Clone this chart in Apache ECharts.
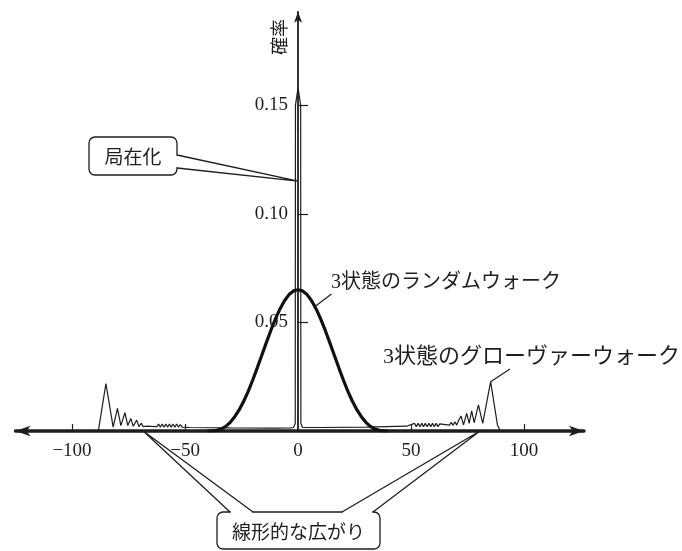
<!DOCTYPE html>
<html><head><meta charset="utf-8">
<script src="https://cdn.jsdelivr.net/npm/echarts@6/dist/echarts.min.js"></script>
<style>html,body{margin:0;padding:0;background:#fff}#c{width:682px;height:551px}</style>
</head><body><div id="c"></div>
<script>
// ---- data ----
const xTickValues = [-100, -50, 50, 100];
const xLabelValues = [-100, -50, 0, 50, 100];
const yTickValues = [0.05, 0.10, 0.15];

const randomX = [-40,-38,-36,-34,-32,-30,-28,-26,-24,-22,-20,-18,-16,-14,-12,-10,-8,-6,-4,-2,0,2,4,6,8,10,12,14,16,18,20,22,24,26,28,30,32,34,36,38,40];
const randomY = [0,0.0001,0.0003,0.0009,0.0021,0.0040,0.0066,0.0098,0.0138,0.0184,0.0236,0.0292,0.0350,0.0408,0.0464,0.0516,0.0562,0.0600,0.0628,0.0645,0.0650,0.0645,0.0628,0.0600,0.0562,0.0516,0.0464,0.0408,0.0350,0.0292,0.0236,0.0184,0.0138,0.0098,0.0066,0.0040,0.0021,0.0009,0.0003,0.0001,0];

const groverX = [-90,-88.3,-85,-81.8,-79.9,-78.4,-76.6,-75.3,-74.0,-72.9,-71.4,-70.4,-69.3,-68.5,-67.5,-62.5,-61.7,-60.9,-60.1,-59.3,-58.5,-57.7,-56.9,-56.1,-55.3,-54.5,-53.7,-52.9,-52.1,-51.3,-48,-30,-10,-3,-2,-1.25,-1.15,0,1.15,1.25,2,3,10,30,48,51.5,52.3,53.1,53.9,54.7,55.5,56.3,57.1,57.9,58.7,59.5,60.3,61.1,61.9,62.7,63.5,67,67.8,68.6,69.4,70.2,71.0,72.1,73.2,74.6,75.7,76.8,77.9,79.8,81.7,85.2,88.2,89.5];
const groverY = [0,0.0003,0.0218,0.0018,0.0104,0.0025,0.0084,0.0025,0.0058,0.0022,0.0050,0.0020,0.0036,0.0020,0.0022,0.0020,0.0032,0.0018,0.0032,0.0018,0.0032,0.0018,0.0032,0.0018,0.0032,0.0018,0.0032,0.0018,0.0030,0.0018,0.0016,0.0014,0.0013,0.0014,0.0016,0.0035,0.150,0.158,0.150,0.0035,0.0016,0.0016,0.0016,0.0018,0.0022,0.0035,0.0020,0.0035,0.0020,0.0035,0.0020,0.0035,0.0020,0.0035,0.0020,0.0035,0.0020,0.0035,0.0020,0.0033,0.0026,0.0027,0.0040,0.0026,0.0043,0.0027,0.0048,0.0069,0.0028,0.0081,0.0035,0.0093,0.0038,0.0120,0.0035,0.0227,0.0028,0];

const yAxisName = '確率';
const localizationLabel = '局在化';
const linearLabel = '線形的な広がり';
const randomLabel = '3状態のランダムウォーク';
const groverLabel = '3状態のグローヴァーウォーク';

// annotation anchors (data coordinates)
const localizationTip = [0, 0.115];
const linearTips = [[-68.5, 0], [80.5, 0]];
const randomAnchor = [7.5, 0.0573];
const groverAnchor = [85.2, 0.0227];

// ---- chart ----
const X_MIN = -125, X_MAX = 126.5, Y_MIN = 0, Y_MAX = 0.193;
const GRID = {left: 15.5, right: 98, top: 11.8, bottom: 120};
const gridW = 682 - GRID.left - GRID.right;
const yAxisOffset = -(0 - X_MIN) / (X_MAX - X_MIN) * gridW;

const chart = echarts.init(document.getElementById('c'), null, {renderer: 'canvas'});
const zip = (xs, ys) => xs.map((x, i) => [x, ys[i]]);
const INK = '#1e1e1e';
const serif = '"Liberation Serif", "DejaVu Serif", serif';
const jp = '"Noto Sans CJK JP", sans-serif';
const mixed = '"Liberation Serif", "Noto Sans CJK JP", serif';

chart.setOption({
  animation: false,
  backgroundColor: '#fff',
  grid: Object.assign({outerBoundsMode: 'none', containLabel: false}, GRID),
  xAxis: {
    type: 'value', min: X_MIN, max: X_MAX,
    axisLine: {show: true, onZero: false, symbol: ['arrow', 'arrow'], symbolSize: [8, 15],
      lineStyle: {color: INK, width: 3.5}},
    axisTick: {show: true, inside: true, length: 7, customValues: xTickValues,
      lineStyle: {color: INK, width: 1.2}},
    axisLabel: {customValues: xLabelValues, color: INK, fontFamily: serif, fontSize: 19, margin: 11,
      formatter: v => v < 0 ? '\u2212' + Math.abs(v) : String(v)},
    splitLine: {show: false}
  },
  yAxis: {
    type: 'value', min: Y_MIN, max: Y_MAX, offset: yAxisOffset,
    axisLine: {show: true, onZero: false, symbol: ['none', 'arrow'], symbolSize: [6, 11],
      lineStyle: {color: INK, width: 1.8}},
    axisTick: {show: true, inside: true, length: 10, customValues: yTickValues,
      lineStyle: {color: INK, width: 1.2}},
    axisLabel: {customValues: yTickValues, color: INK, fontFamily: serif, fontSize: 19, margin: 10,
      formatter: v => v.toFixed(2)},
    splitLine: {show: false}
  },
  series: [
    {type: 'line', data: zip(groverX, groverY), showSymbol: false, symbol: 'none',
      lineStyle: {color: INK, width: 1.2}, z: 3},
    {type: 'line', data: zip(randomX, randomY), showSymbol: false, symbol: 'none',
      lineStyle: {color: '#111', width: 3.2}, z: 4}
  ]
});

const px = p => chart.convertToPixel({gridIndex: 0}, p);
const stroke = {stroke: INK, lineWidth: 1.3, fill: 'none'};
const els = [];

// y axis name
els.push({type: 'text', x: 279, y: 37, rotation: Math.PI / 2,
  style: {text: yAxisName, font: '18px ' + jp, fill: INK, align: 'center', verticalAlign: 'middle'}});

// bubble: 局在化
const b1 = {x: 89, y: 137, w: 88, h: 38};
els.push({type: 'rect', shape: {x: b1.x, y: b1.y, width: b1.w, height: b1.h, r: 6},
  style: {fill: '#fff', stroke: INK, lineWidth: 1.3}, z: 10});
const t1 = px(localizationTip);
els.push({type: 'line', shape: {x1: b1.x + b1.w, y1: 155.8, x2: b1.x + b1.w, y2: 167.2},
  style: {stroke: '#fff', lineWidth: 3}, z: 11});
els.push({type: 'polyline', shape: {points: [[b1.x + b1.w, 155], t1, [b1.x + b1.w, 168]]},
  style: stroke, z: 12});
els.push({type: 'text', x: b1.x + b1.w / 2, y: b1.y + b1.h / 2 + 1, z: 12,
  style: {text: localizationLabel, font: '19px ' + jp, fill: INK, align: 'center', verticalAlign: 'middle'}});

// bubble: 線形的な広がり
const b2 = {x: 217, y: 512, w: 163, h: 37};
els.push({type: 'rect', shape: {x: b2.x, y: b2.y, width: b2.w, height: b2.h, r: 6},
  style: {fill: '#fff', stroke: INK, lineWidth: 1.3}, z: 10});
const tl = px(linearTips[0]), tr = px(linearTips[1]);
els.push({type: 'line', shape: {x1: 230.8, y1: b2.y, x2: 252.2, y2: b2.y},
  style: {stroke: '#fff', lineWidth: 3}, z: 11});
els.push({type: 'line', shape: {x1: 342.8, y1: b2.y, x2: 372.2, y2: b2.y},
  style: {stroke: '#fff', lineWidth: 3}, z: 11});
els.push({type: 'polyline', shape: {points: [[230, b2.y], tl, [253, b2.y]]}, style: stroke, z: 12});
els.push({type: 'polyline', shape: {points: [[342, b2.y], tr, [373, b2.y]]}, style: stroke, z: 12});
els.push({type: 'text', x: b2.x + b2.w / 2, y: b2.y + b2.h / 2 + 1, z: 12,
  style: {text: linearLabel, font: '19px ' + jp, fill: INK, align: 'center', verticalAlign: 'middle'}});

// random walk label
const ra = px(randomAnchor);
els.push({type: 'line', shape: {x1: 331.5, y1: 294, x2: ra[0], y2: ra[1]}, style: {stroke: INK, lineWidth: 1.2}, z: 12});
els.push({type: 'text', x: 331, y: 283, z: 12,
  style: {text: randomLabel, font: '20px ' + mixed, fill: INK, align: 'left', verticalAlign: 'middle'}});

// grover label
const ga = px(groverAnchor);
els.push({type: 'line', shape: {x1: 510, y1: 369, x2: ga[0], y2: ga[1]}, style: {stroke: INK, lineWidth: 1.2}, z: 12});
els.push({type: 'text', x: 383, y: 357, z: 12,
  style: {text: groverLabel, font: '22px ' + mixed, fill: INK, align: 'left', verticalAlign: 'middle'}});

chart.setOption({graphic: {elements: els}});
</script></body></html>
